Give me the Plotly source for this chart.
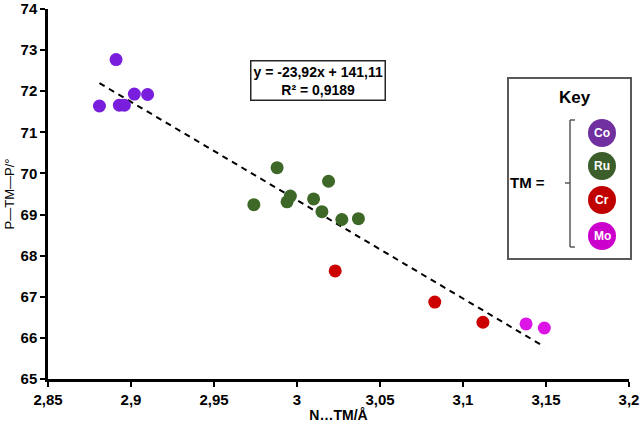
import plotly.graph_objects as go

# ---- data ----
co_x = [2.881, 2.891, 2.893, 2.896, 2.902, 2.910]
co_y = [71.64, 72.77, 71.66, 71.66, 71.93, 71.92]
ru_x = [2.974, 2.988, 2.994, 2.996, 3.010, 3.015, 3.019, 3.027, 3.037]
ru_y = [69.24, 70.14, 69.31, 69.45, 69.38, 69.07, 69.81, 68.88, 68.90]
cr_x = [3.023, 3.083, 3.112]
cr_y = [67.63, 66.87, 66.38]
mo_x = [3.138, 3.149]
mo_y = [66.34, 66.24]

slope = -23.92
intercept = 141.11
r2_text = "0,9189"

x_tickvals = [2.85, 2.9, 2.95, 3.0, 3.05, 3.1, 3.15, 3.2]
x_ticktext = ["2,85", "2,9", "2,95", "3", "3,05", "3,1", "3,15", "3,2"]
y_tickvals = [65, 66, 67, 68, 69, 70, 71, 72, 73, 74]

key_labels = ["Co", "Ru", "Cr", "Mo"]
key_colors = ["#7030A0", "#3B5E2B", "#C00000", "#CC00CC"]

# ---- layout geometry (pixels) ----
W, H = 640, 423
L, R, T, B = 48, 11, 9, 44
PW, PH = W - L - R, H - T - B
FONT = "Liberation Sans"


def px(x):
    return (x - L) / PW


def py(y):
    return (H - B - y) / PH


fig = go.Figure()

all_x = co_x + ru_x + cr_x + mo_x
tx = [min(all_x), max(all_x)]
ty = [slope * v + intercept for v in tx]
fig.add_trace(go.Scatter(x=tx, y=ty, mode="lines",
                         line=dict(color="black", width=2, dash="6px,5px"),
                         showlegend=False, hoverinfo="skip"))

for xs, ys, col in [(co_x, co_y, "#781EDC"), (ru_x, ru_y, "#3E6828"),
                    (cr_x, cr_y, "#CC0000"), (mo_x, mo_y, "#DC14E6")]:
    fig.add_trace(go.Scatter(x=xs, y=ys, mode="markers",
                             marker=dict(color=col, size=13, line=dict(width=0)),
                             showlegend=False))

shapes = []
annotations = []


def ann(x, y, text, size, color="black", bold=True, **kw):
    d = dict(xref="paper", yref="paper", x=px(x), y=py(y),
             text=f"<b>{text}</b>" if bold else text,
             showarrow=False, xanchor="center", yanchor="middle",
             font=dict(family=FONT, size=size, color=color))
    d.update(kw)
    annotations.append(d)


# equation box
eq = f"y = {slope:.2f}x + {intercept:.2f}".replace(".", ",")
ann(318, 80, f"{eq}<br>R² = {r2_text}", 14,
    bordercolor="#262626", borderwidth=1.5, borderpad=2, bgcolor="white", align="center")

# key box
shapes.append(dict(type="rect", xref="paper", yref="paper",
                   x0=px(508), x1=px(631), y0=py(259), y1=py(78),
                   line=dict(color="#595959", width=2), fillcolor="white", layer="above"))
ann(575, 97, "Key", 17)
ann(527, 182, "TM =", 15)
# bracket
bc = dict(color="#595959", width=1.5)
for (x0, y0, x1, y1) in [(570, 120, 570, 247), (570, 120, 575, 120),
                         (570, 247, 575, 247), (565, 183, 570, 183)]:
    shapes.append(dict(type="line", xref="paper", yref="paper",
                       x0=px(x0), y0=py(y0), x1=px(x1), y1=py(y1), line=bc, layer="above"))
# key circles
key_y = [133, 166, 200, 236]
for lab, col, yy in zip(key_labels, key_colors, key_y):
    shapes.append(dict(type="circle", xref="paper", yref="paper",
                       xsizemode="pixel", ysizemode="pixel",
                       xanchor=px(602), yanchor=py(yy),
                       x0=-14, x1=14, y0=-14, y1=14,
                       fillcolor=col, line=dict(width=0), layer="above"))
    ann(602, yy, lab, 12, color="white")

axis_common = dict(showgrid=False, zeroline=False, showline=True, linecolor="black",
                   linewidth=2.5, ticks="outside", ticklen=5, tickwidth=2, tickcolor="black",
                   automargin=False, ticklabeloverflow="allow",
                   tickfont=dict(family=FONT, size=15, color="black"))

fig.update_layout(
    width=W, height=H,
    margin=dict(l=L, r=R, t=T, b=B, pad=0),
    paper_bgcolor="white", plot_bgcolor="white",
    xaxis=dict(range=[2.85, 3.2], tickvals=x_tickvals,
               ticktext=[f"<b>{t}</b>" for t in x_ticktext],
               title=dict(text="<b>N…TM/Å</b>", standoff=3,
                          font=dict(family=FONT, size=14, color="black")),
               **axis_common),
    yaxis=dict(range=[65, 74], tickvals=y_tickvals,
               ticktext=[f"<b>{t}</b>" for t in y_tickvals],
               title=dict(text="P—TM—P/°", standoff=4,
                          font=dict(family=FONT, size=13, color="black")),
               **axis_common),
    shapes=shapes, annotations=annotations,
)

fig.write_html("out.html")
